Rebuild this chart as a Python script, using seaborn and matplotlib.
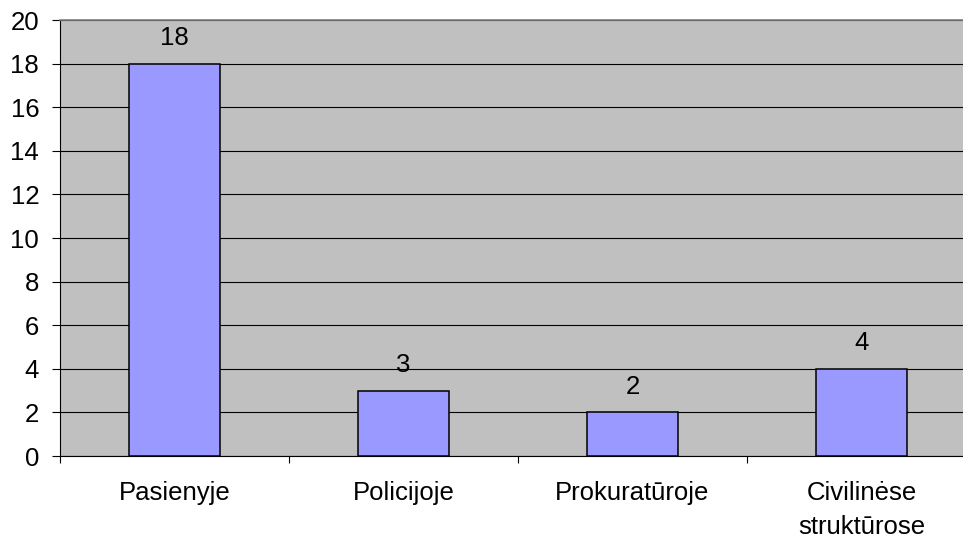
import pandas as pd
import seaborn as sns
import matplotlib.pyplot as plt
from matplotlib.ticker import FixedLocator

categories = ['Pasienyje', 'Policijoje', 'Prokuratūroje', 'Civilinėse\nstruktūrose']
values = [18, 3, 2, 4]
y_ticks = list(range(0, 21, 2))

df = pd.DataFrame({'place': categories, 'count': values})

plt.rcParams['font.family'] = ['Liberation Sans', 'DejaVu Sans']

fig = plt.figure(figsize=(9.63, 5.37), dpi=100)
# plot area runs past the right edge of the picture, like the original
ax = fig.add_axes([60 / 963, 1 - 456 / 537, 916 / 963, 436 / 537])
ax.set_facecolor('#C0C0C0')

sns.barplot(data=df, x='place', y='count', color='#9999FF', saturation=1,
            edgecolor='black', linewidth=1.1, width=0.4, ax=ax, zorder=3)

ax.set_xlim(-0.5, 3.5)
ax.set_ylim(0, 20)
ax.set_yticks(y_ticks)
ax.yaxis.grid(True, color='black', linewidth=0.8)
ax.set_axisbelow(True)

for i, v in enumerate(values):
    ax.annotate(str(v), (i, v), xytext=(0, 18.5), textcoords='offset points',
                ha='center', va='center', fontsize=18.5)

ax.xaxis.set_minor_locator(FixedLocator([-0.5, 0.5, 1.5, 2.5, 3.5]))
ax.tick_params(axis='x', which='major', length=0, pad=18, labelsize=18.5)
ax.tick_params(axis='x', which='minor', length=5, width=0.8, direction='out')
ax.tick_params(axis='y', length=6, width=0.8, direction='out', labelsize=18.5, pad=9)
for lbl in ax.get_xticklabels():
    lbl.set_linespacing(1.5)

ax.spines['right'].set_visible(False)
ax.spines['top'].set_color('#808080')
ax.spines['top'].set_linewidth(1.2)
ax.spines['left'].set_color('black')
ax.spines['bottom'].set_color('black')
ax.set_xlabel('')
ax.set_ylabel('')

fig.savefig('out.png', dpi=100)
